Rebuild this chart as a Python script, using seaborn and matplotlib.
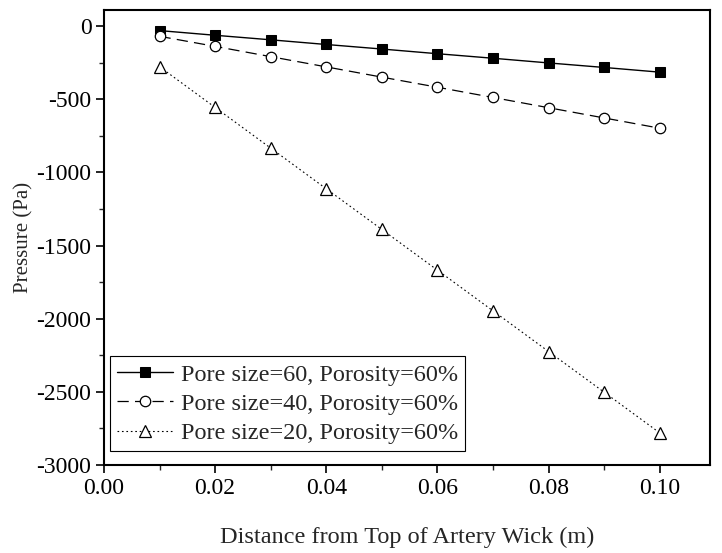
import numpy as np
import pandas as pd
import matplotlib
matplotlib.use("Agg")
import matplotlib.pyplot as plt
import seaborn as sns
from matplotlib.ticker import MultipleLocator, FormatStrFormatter

# data
distance = [0.01, 0.02, 0.03, 0.04, 0.05, 0.06, 0.07, 0.08, 0.09, 0.10]
p_pore60 = [-31, -63, -94, -126, -157, -189, -220, -252, -283, -315]
p_pore40 = [-70, -139, -209, -279, -349, -418, -488, -558, -628, -698]
p_pore20 = [-278, -556, -834, -1112, -1390, -1668, -1946, -2224, -2502, -2780]
labels = ["Pore size=60, Porosity=60%",
          "Pore size=40, Porosity=60%",
          "Pore size=20, Porosity=60%"]

sns.set_style("ticks")
plt.rcParams['font.family'] = ['Liberation Serif', 'DejaVu Serif']
plt.rcParams['axes.unicode_minus'] = False

fig, ax = plt.subplots(figsize=(7.22, 5.53), dpi=100)
fig.subplots_adjust(left=0.144, right=0.983, top=0.982, bottom=0.159)

sns.lineplot(x=distance, y=p_pore60, ax=ax, color="black", lw=1.0,
             linestyle="-", marker="s", markersize=7.5, markerfacecolor="black",
             markeredgecolor="black", label=labels[0])
sns.lineplot(x=distance, y=p_pore40, ax=ax, color="black", lw=0.9,
             linestyle=(0, (9, 5)), marker="o", markersize=7.5,
             markerfacecolor="white", markeredgecolor="black", markeredgewidth=0.9,
             label=labels[1])
sns.lineplot(x=distance, y=p_pore20, ax=ax, color="black", lw=0.8,
             linestyle=(0, (1.5, 2.5)), marker="^", markersize=9,
             markerfacecolor="white", markeredgecolor="black", markeredgewidth=0.9,
             label=labels[2])

ax.set_xlim(0, 0.109)
ax.set_ylim(-3000, 110)
ax.xaxis.set_major_locator(MultipleLocator(0.02))
ax.xaxis.set_minor_locator(MultipleLocator(0.01))
ax.yaxis.set_major_locator(MultipleLocator(500))
ax.yaxis.set_minor_locator(MultipleLocator(250))
ax.xaxis.set_major_formatter(FormatStrFormatter('%.2f'))

ax.tick_params(which="major", direction="out", length=6, width=1.2, labelsize=17, colors="black", pad=3)
ax.tick_params(which="minor", direction="out", length=3.5, width=1.0)
for sp in ax.spines.values():
    sp.set_linewidth(1.5)
    sp.set_color("black")

ax.set_xlabel("Distance from Top of Artery Wick (m)", fontsize=17.5, labelpad=20)
ax.set_ylabel("Pressure (Pa)", fontsize=15, labelpad=2)

leg = ax.legend(loc="lower left", bbox_to_anchor=(0.01, 0.03), fontsize=17.5,
                frameon=True, fancybox=False, edgecolor="black", framealpha=1,
                handlelength=2.3, handletextpad=0.3, borderpad=0.3, labelspacing=0.3,
                borderaxespad=0)
leg.get_frame().set_linewidth(0.8)

fig.savefig("out.png", dpi=100)
